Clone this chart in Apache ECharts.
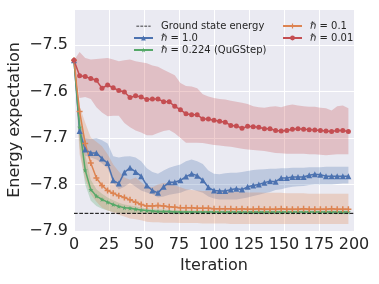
<!DOCTYPE html>
<html><head><meta charset="utf-8">
<script src="https://cdn.jsdelivr.net/npm/echarts@6/dist/echarts.min.js"></script>
<style>html,body{margin:0;padding:0;background:#fff}#c{width:379px;height:284px}</style>
</head><body><div id="c"></div>
<script>
const iterations = [0,4,8,12,16,20,24,28,32,36,40,44,48,52,56,60,64,68,72,76,80,84,88,92,96,100,104,108,112,116,120,124,128,132,136,140,144,148,152,156,160,164,168,172,176,180,184,188,192,196];
const groundEnergy = -7.862;
const xTicks = [0,25,50,75,100,125,150,175,200];
const yTicks = [-7.9,-7.8,-7.7,-7.6,-7.5];

const red = [-7.533,-7.566,-7.568,-7.572,-7.576,-7.593,-7.586,-7.592,-7.598,-7.601,-7.613,-7.609,-7.612,-7.617,-7.616,-7.616,-7.622,-7.622,-7.632,-7.639,-7.648,-7.650,-7.650,-7.659,-7.659,-7.662,-7.664,-7.666,-7.673,-7.674,-7.679,-7.675,-7.676,-7.677,-7.680,-7.680,-7.684,-7.685,-7.684,-7.681,-7.680,-7.681,-7.682,-7.683,-7.684,-7.685,-7.686,-7.684,-7.684,-7.686];
const redHi = [-7.533,-7.515,-7.528,-7.531,-7.530,-7.529,-7.528,-7.531,-7.535,-7.533,-7.531,-7.535,-7.537,-7.539,-7.544,-7.547,-7.553,-7.559,-7.565,-7.582,-7.588,-7.589,-7.593,-7.606,-7.611,-7.614,-7.616,-7.617,-7.620,-7.622,-7.624,-7.627,-7.632,-7.634,-7.635,-7.633,-7.632,-7.634,-7.630,-7.628,-7.630,-7.632,-7.633,-7.633,-7.635,-7.636,-7.641,-7.632,-7.630,-7.636];
const redLo = [-7.533,-7.614,-7.612,-7.616,-7.634,-7.645,-7.653,-7.652,-7.652,-7.668,-7.677,-7.684,-7.688,-7.694,-7.694,-7.689,-7.685,-7.683,-7.690,-7.700,-7.710,-7.710,-7.710,-7.711,-7.713,-7.715,-7.716,-7.718,-7.719,-7.721,-7.723,-7.725,-7.726,-7.727,-7.728,-7.730,-7.732,-7.733,-7.734,-7.734,-7.734,-7.734,-7.735,-7.735,-7.736,-7.737,-7.736,-7.735,-7.735,-7.735];

const blue = [-7.533,-7.685,-7.725,-7.732,-7.732,-7.744,-7.754,-7.791,-7.798,-7.774,-7.764,-7.773,-7.782,-7.802,-7.813,-7.818,-7.805,-7.795,-7.795,-7.791,-7.783,-7.777,-7.781,-7.791,-7.806,-7.813,-7.814,-7.814,-7.811,-7.809,-7.811,-7.805,-7.802,-7.800,-7.796,-7.793,-7.794,-7.786,-7.786,-7.784,-7.784,-7.784,-7.780,-7.778,-7.779,-7.782,-7.782,-7.782,-7.782,-7.782];
const blueHi = [-7.533,-7.665,-7.700,-7.702,-7.700,-7.705,-7.712,-7.739,-7.742,-7.740,-7.739,-7.742,-7.750,-7.765,-7.773,-7.777,-7.770,-7.764,-7.760,-7.757,-7.750,-7.746,-7.750,-7.756,-7.770,-7.777,-7.778,-7.776,-7.775,-7.775,-7.773,-7.771,-7.769,-7.768,-7.767,-7.766,-7.766,-7.765,-7.765,-7.764,-7.764,-7.764,-7.763,-7.763,-7.763,-7.762,-7.762,-7.762,-7.762,-7.762];
const blueLo = [-7.533,-7.705,-7.738,-7.742,-7.746,-7.755,-7.765,-7.796,-7.811,-7.805,-7.796,-7.805,-7.813,-7.817,-7.821,-7.828,-7.826,-7.822,-7.820,-7.818,-7.813,-7.810,-7.814,-7.818,-7.826,-7.830,-7.832,-7.832,-7.832,-7.832,-7.830,-7.828,-7.825,-7.822,-7.819,-7.816,-7.812,-7.810,-7.807,-7.805,-7.804,-7.803,-7.801,-7.800,-7.800,-7.800,-7.800,-7.799,-7.798,-7.798];

const orange = [-7.533,-7.643,-7.712,-7.754,-7.786,-7.802,-7.813,-7.819,-7.824,-7.828,-7.833,-7.838,-7.843,-7.846,-7.846,-7.845,-7.846,-7.848,-7.849,-7.850,-7.850,-7.850,-7.851,-7.851,-7.851,-7.852,-7.852,-7.852,-7.852,-7.853,-7.852,-7.853,-7.853,-7.852,-7.853,-7.853,-7.853,-7.852,-7.853,-7.853,-7.853,-7.852,-7.853,-7.853,-7.853,-7.853,-7.852,-7.853,-7.853,-7.853];
const orangeHi = [-7.533,-7.631,-7.667,-7.699,-7.708,-7.718,-7.735,-7.757,-7.772,-7.785,-7.790,-7.785,-7.795,-7.805,-7.806,-7.800,-7.797,-7.798,-7.802,-7.806,-7.810,-7.812,-7.813,-7.814,-7.814,-7.815,-7.815,-7.815,-7.816,-7.816,-7.816,-7.817,-7.817,-7.817,-7.818,-7.818,-7.818,-7.818,-7.819,-7.819,-7.819,-7.819,-7.820,-7.820,-7.820,-7.820,-7.820,-7.820,-7.820,-7.820];
const orangeLo = [-7.533,-7.735,-7.789,-7.821,-7.837,-7.850,-7.856,-7.860,-7.865,-7.869,-7.873,-7.875,-7.877,-7.880,-7.881,-7.881,-7.882,-7.882,-7.882,-7.883,-7.883,-7.883,-7.883,-7.884,-7.884,-7.884,-7.884,-7.884,-7.885,-7.885,-7.885,-7.885,-7.885,-7.885,-7.885,-7.885,-7.885,-7.885,-7.885,-7.885,-7.885,-7.885,-7.885,-7.885,-7.885,-7.885,-7.885,-7.885,-7.885,-7.885];

const green = [-7.533,-7.677,-7.769,-7.811,-7.825,-7.832,-7.838,-7.843,-7.847,-7.850,-7.851,-7.853,-7.855,-7.856,-7.857,-7.858,-7.858,-7.858,-7.859,-7.859,-7.859,-7.859,-7.859,-7.859,-7.859,-7.859,-7.859,-7.859,-7.859,-7.859,-7.859,-7.859,-7.859,-7.859,-7.859,-7.859,-7.859,-7.859,-7.859,-7.859,-7.859,-7.859,-7.859,-7.859,-7.859,-7.859,-7.859,-7.859,-7.859,-7.859];
const greenHi = [-7.533,-7.640,-7.735,-7.790,-7.810,-7.820,-7.828,-7.834,-7.839,-7.843,-7.845,-7.847,-7.850,-7.851,-7.853,-7.854,-7.854,-7.855,-7.855,-7.855,-7.856,-7.856,-7.856,-7.856,-7.856,-7.856,-7.856,-7.856,-7.856,-7.856,-7.856,-7.856,-7.856,-7.856,-7.856,-7.856,-7.856,-7.856,-7.856,-7.856,-7.856,-7.856,-7.856,-7.856,-7.856,-7.856,-7.856,-7.856,-7.856,-7.856];
const greenLo = [-7.533,-7.720,-7.800,-7.835,-7.846,-7.852,-7.856,-7.859,-7.861,-7.862,-7.862,-7.863,-7.863,-7.863,-7.863,-7.863,-7.862,-7.862,-7.862,-7.862,-7.862,-7.862,-7.862,-7.862,-7.862,-7.862,-7.862,-7.862,-7.862,-7.862,-7.862,-7.862,-7.862,-7.862,-7.862,-7.862,-7.862,-7.862,-7.862,-7.862,-7.862,-7.862,-7.862,-7.862,-7.862,-7.862,-7.862,-7.862,-7.862,-7.862];

const C = {blue:'#4C72B0', orange:'#DD8452', green:'#55A868', red:'#C44E52'};
const FONT = 'DejaVu Sans';
const plusPath = 'path://M3,0h2v3h3v2h-3v3h-2v-3h-3v-2h3z';
const starPath = 'path://M50,0L61.76,33.82L97.55,34.55L69.02,56.18L79.39,90.45L50,70L20.61,90.45L30.98,56.18L2.45,34.55L38.24,33.82Z';
const dashIcon = 'path://M0,0L0.01,0M0,8L0.01,8M0,3.5h3.7v1h-3.7zM5.3,3.5h3.7v1h-3.7zM10.6,3.5h3.7v1h-3.7zM15.9,3.5h3.1v1h-3.1z';

function pts(ys){ return iterations.map((x,i)=>[x, ys[i]]); }
function band(name, lo, hi, color){
  const data = iterations.map((x,i)=>[x, lo[i], hi[i]]);
  return {
    type:'custom', name: name+'_band', z:1, silent:true,
    data: data,
    encode:{x:0, y:[1,2]},
    renderItem:function(params, api){
      if (params.dataIndex !== 0) return null;
      const up = data.map(d=>api.coord([d[0], d[2]]));
      const dn = data.map(d=>api.coord([d[0], d[1]])).reverse();
      return {type:'polygon', shape:{points: up.concat(dn)}, style:{fill: color, opacity:0.28}};
    }
  };
}
function line(name, ys, color, symbol, size){
  return {type:'line', name:name, data:pts(ys), z:3, symbol:symbol, symbolSize:size,
    showSymbol:true, animation:false,
    lineStyle:{color:color, width:1.5}, itemStyle:{color:color}};
}
const legendText = {fontFamily:FONT, fontSize:10, color:'#262626', padding:[0,0,0,3]};

const chart = echarts.init(document.getElementById('c'), null, {renderer:'canvas'});
chart.setOption({
  animation:false,
  backgroundColor:'#ffffff',
  textStyle:{fontFamily:FONT},
  grid:{left:74, right:25, top:9, bottom:53, show:true, backgroundColor:'#EAEAF2', borderWidth:0,
        containLabel:false, outerBoundsMode:'none'},
  xAxis:{type:'value', min:0, max:200, interval:25,
    name:'Iteration', nameLocation:'middle', nameGap:27, nameMoveOverlap:false,
    nameTextStyle:{fontFamily:FONT, fontSize:16, color:'#262626'},
    axisLine:{show:false}, axisTick:{show:false},
    axisLabel:{fontFamily:FONT, fontSize:16, color:'#262626', margin:6,
      formatter:v=> xTicks.includes(v) ? String(v) : ''},
    splitLine:{show:true, lineStyle:{color:'#ffffff', width:1}}},
  yAxis:{type:'value', min:-7.9, max:-7.4226, interval:0.1,
    name:'Energy expectation', nameLocation:'middle', nameGap:51, nameMoveOverlap:false,
    nameTextStyle:{fontFamily:FONT, fontSize:16, color:'#262626'},
    axisLine:{show:false}, axisTick:{show:false},
    axisLabel:{fontFamily:FONT, fontSize:16, color:'#262626', margin:6, showMaxLabel:false,
      formatter:function(v){
        const t = yTicks.find(k=>Math.abs(k-v)<1e-6);
        return t===undefined ? '' : '\u2212'+Math.abs(t).toFixed(1);
      }},
    splitLine:{show:true, lineStyle:{color:'#ffffff', width:1}}},
  legend:[
    {left:128, top:16, orient:'vertical', itemWidth:19, itemHeight:6, itemGap:2,
     textStyle:legendText,
     data:[{name:'Ground state energy', icon:dashIcon},'\u210F = 1.0','\u210F = 0.224 (QuGStep)']},
    {left:277, top:16, orient:'vertical', itemWidth:19, itemHeight:6, itemGap:2,
     textStyle:legendText,
     data:['\u210F = 0.1','\u210F = 0.01']}
  ],
  series:[
    band('b', blueLo, blueHi, C.blue),
    band('g', greenLo, greenHi, C.green),
    band('o', orangeLo, orangeHi, C.orange),
    band('r', redLo, redHi, C.red),
    line('\u210F = 1.0', blue, C.blue, 'triangle', 6),
    line('\u210F = 0.224 (QuGStep)', green, C.green, starPath, 5),
    line('\u210F = 0.1', orange, C.orange, plusPath, 6),
    line('\u210F = 0.01', red, C.red, 'circle', 5),
    {type:'line', name:'Ground state energy', data:[[0,groundEnergy],[200,groundEnergy]], z:5,
     symbol:'none', lineStyle:{color:'#000000', width:1, type:[3.7,1.6]}, itemStyle:{color:'#000000'}}
  ]
});
</script></body></html>
